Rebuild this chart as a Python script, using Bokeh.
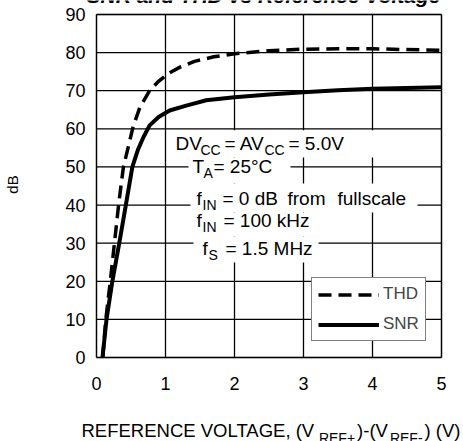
import math
from bokeh.plotting import figure
from bokeh.models import Range1d, Label, BoxAnnotation, Legend, LegendItem
from bokeh.core.properties import value
from bokeh.embed import file_html
from bokeh.resources import INLINE

# ---- data ----
thd_x = [0.09, 0.135, 0.2, 0.26, 0.32, 0.39, 0.46, 0.53, 0.63, 0.77, 0.89, 1.04, 1.21, 1.42, 1.7, 2.0, 2.5, 3.0, 3.5, 4.0, 4.5, 5.0]
thd_y = [0, 10, 20, 30, 40, 50, 55.2, 60.5, 65.7, 70, 72.3, 74.5, 76.2, 77.7, 78.9, 79.7, 80.5, 80.9, 81.0, 81.0, 80.8, 80.6]
snr_x = [0.087, 0.145, 0.23, 0.33, 0.425, 0.52, 0.6, 0.68, 0.77, 0.9, 1.06, 1.3, 1.59, 2.0, 2.5, 3.0, 3.5, 4.0, 4.5, 5.0]
snr_y = [0, 10, 20, 30, 40, 50, 54.5, 57.8, 60.9, 63.1, 64.8, 66.1, 67.5, 68.3, 69.0, 69.6, 70.1, 70.5, 70.7, 70.9]
x_ticks = [0, 1, 2, 3, 4, 5]
y_ticks = [0, 10, 20, 30, 40, 50, 60, 70, 80, 90]
x_tick_labels = ["0", "1", "2", "3", "4", "5"]
y_tick_labels = ["0", "10", "20", "30", "40", "50", "60", "70", "80", "90"]
series_names = ["THD", "SNR"]
title_text = "SNR and THD vs Reference Voltage"
y_label = "dB"

FONT = "Liberation Sans"
W, H = 463, 441
X0, X1 = x_ticks[0], x_ticks[-1]
Y0, Y1 = y_ticks[0], y_ticks[-1]
# pixel positions of the plot box on the page
PX0, PX1, PY0, PY1 = 96, 441, 357, 14
kx = (PX1 - PX0) / (X1 - X0)
ky = (PY0 - PY1) / (Y1 - Y0)

# the frame fills the whole page so that texts around the plot box are not clipped
p = figure(width=W, height=H, output_backend="svg", toolbar_location=None,
           x_axis_location=None, y_axis_location=None,
           x_range=Range1d(X0 - PX0 / kx, X1 + (W - PX1) / kx),
           y_range=Range1d(Y0 - (H - PY0) / ky, Y1 + PY1 / ky),
           min_border=0, min_border_left=0, min_border_right=0,
           min_border_top=0, min_border_bottom=0)
p.background_fill_color = "white"
p.border_fill_color = "white"
p.outline_line_color = None
p.xgrid.visible = False
p.ygrid.visible = False


def dx(px):
    return X0 + (px - PX0) / kx


def dy(py):
    return Y0 + (PY0 - py) / ky


# grid lines of the plot box, from the tick arrays
p.segment(x0=x_ticks, x1=x_ticks, y0=[Y0] * len(x_ticks), y1=[Y1] * len(x_ticks),
          line_color="black", line_width=1.3)
p.segment(x0=[X0] * len(y_ticks), x1=[X1] * len(y_ticks), y0=y_ticks, y1=y_ticks,
          line_color="black", line_width=1.3)
p.add_layout(BoxAnnotation(left=X0, right=X1, bottom=Y0, top=Y1, fill_alpha=0,
                           line_color="black", line_width=1.7, level="underlay"))

# tick labels
p.text(x=x_ticks, y=[dy(382.5)] * len(x_ticks), text=x_tick_labels,
       text_align="center", text_baseline="middle", text_font=value(FONT),
       text_font_size="18px", text_color="black")
p.text(x=[dx(85)] * len(y_ticks), y=y_ticks, text=y_tick_labels,
       text_align="right", text_baseline="middle", text_font=value(FONT),
       text_font_size="18px", text_color="black")

# white backgrounds behind the condition texts
for (l, r, t, b) in [(172, 380, 129.8, 157), (188, 290, 157, 183), (190, 417, 183, 212),
                     (190, 318, 212, 236), (193, 318, 236, 262)]:
    p.add_layout(BoxAnnotation(left=dx(l), right=dx(r), top=dy(t), bottom=dy(b),
                               fill_color="white", fill_alpha=1.0, line_color=None))

r_thd = p.line(thd_x, thd_y, line_color="black", line_width=3.5, line_dash="13 7")
r_snr = p.line(snr_x, snr_y, line_color="black", line_width=4)

legend = Legend(items=[LegendItem(label=series_names[0], renderers=[r_thd]),
                       LegendItem(label=series_names[1], renderers=[r_snr])],
                location=(311, 100), orientation="vertical",
                padding=6, spacing=10, margin=0,
                glyph_width=61, glyph_height=17, label_height=17, label_width=34,
                label_standoff=4,
                label_text_font=FONT, label_text_font_size="17px",
                border_line_color="black", border_line_width=1.5,
                background_fill_color="white", background_fill_alpha=1.0)
p.add_layout(legend)


def txt(s, px, py, size, style="normal", align="left", angle=0.0, baseline="alphabetic"):
    if baseline == "alphabetic":
        py = py - 0.36 * size   # Label places its alphabetic baseline lower than requested
    p.add_layout(Label(x=dx(px), y=dy(py), text=s, text_font=FONT,
                       text_font_size=f"{size}px", text_font_style=style,
                       text_align=align, text_baseline=baseline,
                       angle=angle, text_color="black"))


# Arial / Liberation Sans advance widths (1/1000 em)
AW = {' ': 278, 'R': 722, 'E': 667, 'F': 611, 'N': 722, 'C': 722, 'V': 667, 'O': 778,
      'L': 556, 'T': 611, 'A': 667, 'G': 778, ',': 278, '(': 333, ')': 333, '+': 584,
      '-': 333}


def wid(s, size):
    return sum(AW.get(c, 556) for c in s) * size / 1000.0


MAIN, SUB, DROP = 19, 14, 5
lines = [
    [("DV", 175, 150, False), ("CC", 200, 150, True), ("= AV", 224, 150, False),
     ("CC", 264, 150, True), ("= 5.0V", 288, 150, False)],
    [("T", 192, 173, False), ("A", 203, 173, True), ("= 25°C", 213, 173, False)],
    [("f", 196, 205, False), ("IN", 202, 205, True), ("= 0 dB", 222, 205, False),
     ("from", 287, 205, False), ("fullscale", 337, 205, False)],
    [("f", 196, 227, False), ("IN", 202, 227, True), ("= 100 kHz", 223, 227, False)],
    [("f", 202, 255, False), ("S", 208, 255, True), ("= 1.5 MHz", 225, 255, False)],
]
for line in lines:
    for (s, x, y, sub) in line:
        if sub:
            txt(s, x, y + DROP, SUB)
        else:
            txt(s, x, y, MAIN)

# x-axis label with subscripts
XM, XS = 18.5, 14
pieces = [("REFERENCE VOLTAGE, (V", False), ("REF+", True), (")-(V", False),
          ("REF-", True), (") (V)", False)]
cx = 81
for s, sub in pieces:
    if sub:
        txt(s, cx + 2, 437 + 6, XS)
        cx += wid(s, XS) + 4
    else:
        txt(s, cx, 437, XM)
        cx += wid(s, XM)

# y-axis label
txt(y_label, 12, 184, 15, align="center", angle=math.pi / 2, baseline="middle")

# title (partly cut off at the top, as in the reference)
txt(title_text, 263, 3, 21, style="bold italic", align="center")

open("out.html", "w").write(file_html(p, INLINE))
